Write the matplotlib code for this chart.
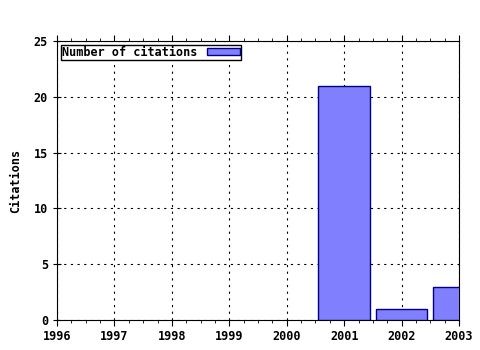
import matplotlib
matplotlib.use("Agg")
import matplotlib.pyplot as plt
from matplotlib.ticker import MultipleLocator

years = [2001, 2002, 2003]
citations = [21, 1, 3]
year_ticks = list(range(1996, 2004))

plt.rcParams['font.family'] = 'DejaVu Sans Mono'
plt.rcParams['font.weight'] = 'bold'
plt.rcParams['font.size'] = 8.5

fig = plt.figure(figsize=(4.8, 3.5), dpi=100)
ax = fig.add_axes([57 / 480, 30 / 350, 402 / 480, 279 / 350])

ax.bar(years, citations, width=0.9, color='#8080ff', edgecolor='#000080',
       linewidth=1, label='Number of citations', zorder=3)

ax.set_xlim(1996, 2003)
ax.set_ylim(0, 25)
ax.set_xticks(year_ticks)
ax.xaxis.set_minor_locator(MultipleLocator(0.25))
ax.yaxis.set_major_locator(MultipleLocator(5))
ax.tick_params(axis='x', which='major', direction='out', length=4, top=True)
ax.tick_params(axis='x', which='minor', direction='out', length=2, top=True, bottom=True)
ax.tick_params(axis='y', which='major', direction='inout', length=6, right=False)
ax.grid(True, which='major', linestyle=(0, (2, 4)), color='black', linewidth=0.8)
ax.set_axisbelow(True)
ax.set_ylabel('Citations', fontweight='bold', labelpad=8)

leg = ax.legend(loc='upper left', markerfirst=False, frameon=True, fancybox=False,
                borderpad=0.1, handlelength=2.8, handleheight=0.6,
                borderaxespad=0.3, framealpha=1)
leg.get_frame().set_edgecolor('black')
leg.get_frame().set_linewidth(1)

fig.savefig('out.png', dpi=100)
